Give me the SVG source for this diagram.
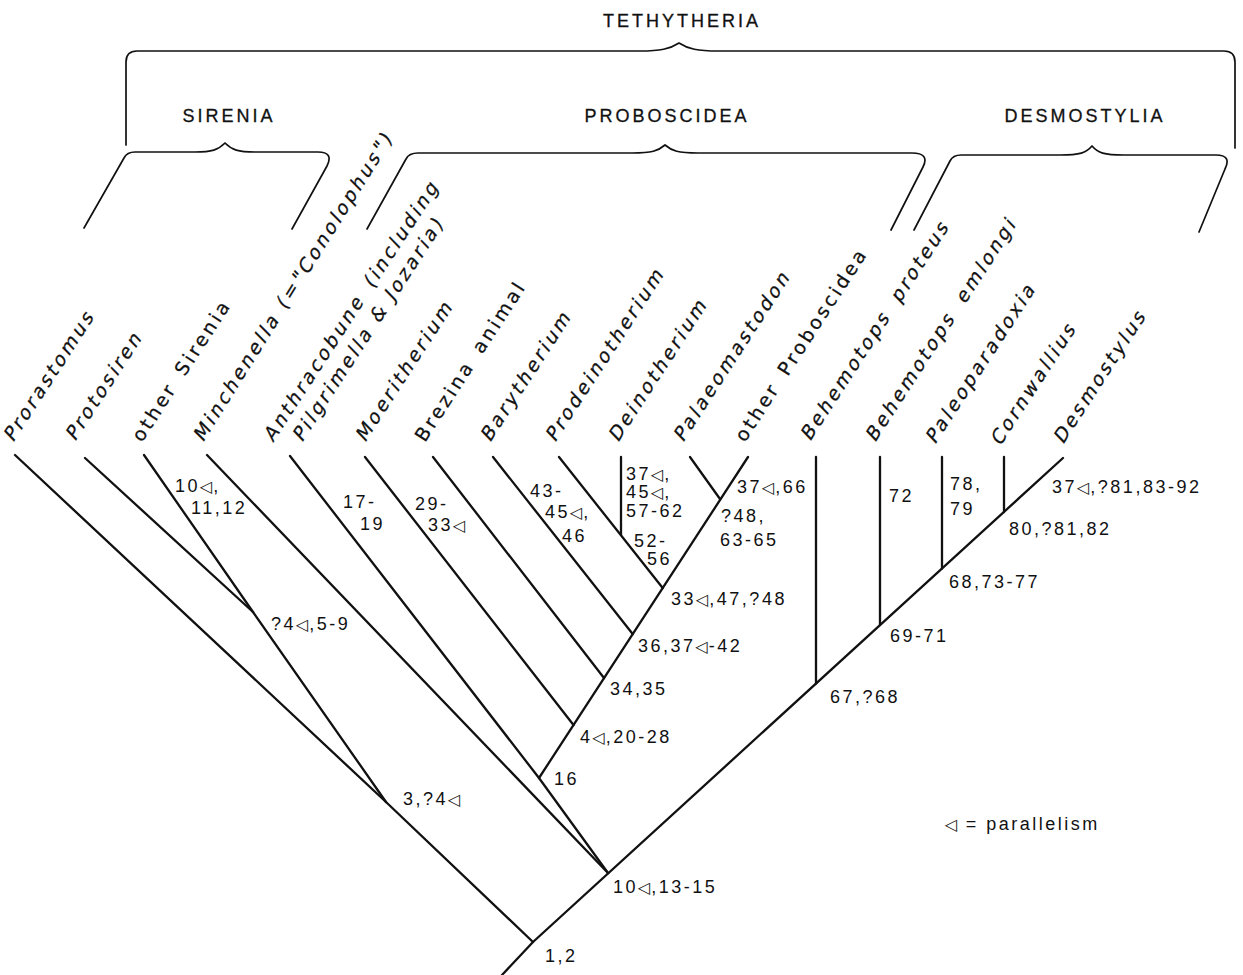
<svg xmlns="http://www.w3.org/2000/svg" width="1243" height="975" viewBox="0 0 1243 975">
<style>
.bg{fill:#fff}
.ln{stroke:#111;stroke-width:2.3;fill:none;stroke-linecap:round;stroke-linejoin:round}
.br{stroke:#111;stroke-width:1.7;fill:none;stroke-linecap:round;stroke-linejoin:round}
.cl{font-family:"Liberation Sans",Arial,sans-serif;font-size:18px;letter-spacing:3px;fill:#111;text-anchor:middle;stroke:#111;stroke-width:0.3}
.tx{font-family:"DejaVu Sans",sans-serif;font-size:19px;letter-spacing:3px;fill:#111;stroke:#111;stroke-width:0.25}
.n{font-family:"Liberation Sans",Arial,sans-serif;font-size:18px;letter-spacing:2.5px;fill:#111}
.p{font-family:"DejaVu Sans",sans-serif;font-size:16px;letter-spacing:1px}
</style>
<rect class="bg" x="0" y="0" width="1243" height="975"/>

<g id="clades">
  <g id="clade-tethytheria">
    <path class="br" d="M126,145 L126,62 Q126,51 137,51 L640,51 C660,51 670,49 679,43 C688,49 698,51 718,51 L1224,51 Q1235,51 1235,62 L1235,148"/>
    <text class="cl" x="682" y="27">TETHYTHERIA</text>
  </g>
  <g id="clade-sirenia">
    <path class="br" d="M84,228 L124,158 Q127,152 135,152 L195,152 C212,152 218,150 225,143 C232,150 238,152 255,152 L318,152 Q334,152 327,166 L292,229"/>
    <text class="cl" x="229" y="122">SIRENIA</text>
  </g>
  <g id="clade-proboscidea">
    <path class="br" d="M367,229 L406,159 Q409,153 418,153 L632,153 C652,153 658,151 665,145 C672,151 678,153 698,153 L912,153 Q930,153 923,167 L891,230"/>
    <text class="cl" x="667" y="122">PROBOSCIDEA</text>
  </g>
  <g id="clade-desmostylia">
    <path class="br" d="M914,230 L950,161 Q953,155 961,155 L1060,155 C1080,155 1086,153 1092,146 C1098,153 1104,155 1124,155 L1216,155 Q1232,155 1225,169 L1199,232"/>
    <text class="cl" x="1085" y="122">DESMOSTYLIA</text>
  </g>
</g>

<g id="connectors">
  <polyline class="ln" points="502,975 533,942 1063,458"/>
  <polyline class="ln" points="533,942 386,802 15,455"/>
  <polyline class="ln" points="386,802 253,612 144,455"/>
  <line class="ln" x1="253" y1="612" x2="85" y2="458"/>
  <line class="ln" x1="608" y1="873" x2="207" y2="455"/>
  <polyline class="ln" points="608,873 539,778 290,456"/>
  <line class="ln" x1="539" y1="778" x2="748" y2="457"/>
  <line class="ln" x1="365" y1="457" x2="573.5" y2="725"/>
  <line class="ln" x1="433" y1="457" x2="604" y2="678"/>
  <line class="ln" x1="493" y1="457" x2="632.7" y2="634"/>
  <line class="ln" x1="559" y1="457" x2="662.7" y2="588"/>
  <line class="ln" x1="621" y1="457" x2="621" y2="535"/>
  <line class="ln" x1="690" y1="457" x2="720" y2="499"/>
  <line class="ln" x1="816" y1="457" x2="816" y2="683.6"/>
  <line class="ln" x1="880" y1="457" x2="880" y2="625"/>
  <line class="ln" x1="942" y1="457" x2="942" y2="568.5"/>
  <line class="ln" x1="1004" y1="457" x2="1004" y2="512"/>
</g>

<g id="taxa">
  <g id="taxon-prorastomus"><text class="tx" transform="translate(13,443) rotate(-57) skewX(-13)">Prorastomus</text></g>
  <g id="taxon-protosiren"><text class="tx" transform="translate(75,442) rotate(-57) skewX(-13)">Protosiren</text></g>
  <g id="taxon-other-sirenia"><text class="tx" transform="translate(142,443) rotate(-57)">other <tspan dx="4">Sirenia</tspan></text></g>
  <g id="taxon-minchenella"><text class="tx" transform="translate(203,443) rotate(-58) skewX(-13)" letter-spacing="1.6">Minchenella (="Conolophus")</text></g>
  <g id="taxon-anthracobune">
    <text class="tx" transform="translate(273,443) rotate(-57) skewX(-13)">Anthracobune <tspan dx="4">(including</tspan></text>
    <text class="tx" transform="translate(302,443) rotate(-57) skewX(-13)">Pilgrimella &amp; Jozaria)</text>
  </g>
  <g id="taxon-moeritherium"><text class="tx" transform="translate(365,443) rotate(-57) skewX(-13)">Moeritherium</text></g>
  <g id="taxon-brezina"><text class="tx" transform="translate(425,443) rotate(-57)">Brezina <tspan dx="4">animal</tspan></text></g>
  <g id="taxon-barytherium"><text class="tx" transform="translate(490,443) rotate(-57) skewX(-13)">Barytherium</text></g>
  <g id="taxon-prodeinotherium"><text class="tx" transform="translate(555,443) rotate(-57) skewX(-13)">Prodeinotherium</text></g>
  <g id="taxon-deinotherium"><text class="tx" transform="translate(618,443) rotate(-57) skewX(-13)">Deinotherium</text></g>
  <g id="taxon-palaeomastodon"><text class="tx" transform="translate(683,443) rotate(-57) skewX(-13)">Palaeomastodon</text></g>
  <g id="taxon-other-proboscidea"><text class="tx" transform="translate(745,443) rotate(-57)">other <tspan dx="4">Proboscidea</tspan></text></g>
  <g id="taxon-behemotops-proteus"><text class="tx" transform="translate(810,442) rotate(-57) skewX(-13)">Behemotops <tspan dx="6">proteus</tspan></text></g>
  <g id="taxon-behemotops-emlongi"><text class="tx" transform="translate(875,443) rotate(-57) skewX(-13)">Behemotops <tspan dx="6">emlongi</tspan></text></g>
  <g id="taxon-paleoparadoxia"><text class="tx" transform="translate(935,445) rotate(-57) skewX(-13)">Paleoparadoxia</text></g>
  <g id="taxon-cornwallius"><text class="tx" transform="translate(1000,447) rotate(-57) skewX(-13)">Cornwallius</text></g>
  <g id="taxon-desmostylus"><text class="tx" transform="translate(1063,445) rotate(-57) skewX(-13)">Desmostylus</text></g>
</g>

<g id="characters">
  <g id="node-1-2"><text class="n" x="545" y="962">1,2</text></g>
  <g id="node-10-13-15"><text class="n" x="613" y="893">10<tspan class="p">◁</tspan>,13-15</text></g>
  <g id="node-3-4"><text class="n" x="403" y="805">3,?4<tspan class="p">◁</tspan></text></g>
  <g id="node-4-5-9"><text class="n" x="271" y="630">?4<tspan class="p">◁</tspan>,5-9</text></g>
  <g id="branch-other-sirenia"><text class="n" x="175" y="492">10<tspan class="p">◁</tspan>,</text><text class="n" x="191" y="514">11,12</text></g>
  <g id="node-16"><text class="n" x="554" y="785">16</text></g>
  <g id="branch-moeritherium"><text class="n" x="343" y="508">17-</text><text class="n" x="360" y="530">19</text></g>
  <g id="node-4-20-28"><text class="n" x="580" y="743">4<tspan class="p">◁</tspan>,20-28</text></g>
  <g id="branch-brezina"><text class="n" x="415" y="510">29-</text><text class="n" x="428" y="531">33<tspan class="p">◁</tspan></text></g>
  <g id="node-34-35"><text class="n" x="610" y="695">34,35</text></g>
  <g id="branch-barytherium"><text class="n" x="530" y="497">43-</text><text class="n" x="545" y="518">45<tspan class="p">◁</tspan>,</text><text class="n" x="562" y="542">46</text></g>
  <g id="node-36-42"><text class="n" x="638" y="652">36,37<tspan class="p">◁</tspan>-42</text></g>
  <g id="branch-deinotherium"><text class="n" x="626" y="480">37<tspan class="p">◁</tspan>,</text><text class="n" x="626" y="498">45<tspan class="p">◁</tspan>,</text><text class="n" x="626" y="517">57-62</text></g>
  <g id="branch-prodeinotherium"><text class="n" x="634" y="547">52-</text><text class="n" x="647" y="565">56</text></g>
  <g id="node-33-47-48"><text class="n" x="671" y="605">33<tspan class="p">◁</tspan>,47,?48</text></g>
  <g id="branch-other-proboscidea"><text class="n" x="737" y="493">37<tspan class="p">◁</tspan>,66</text></g>
  <g id="node-48-63-65"><text class="n" x="721" y="522">?48,</text><text class="n" x="720" y="546">63-65</text></g>
  <g id="node-67-68"><text class="n" x="830" y="703">67,?68</text></g>
  <g id="branch-emlongi"><text class="n" x="889" y="502">72</text></g>
  <g id="node-69-71"><text class="n" x="890" y="642">69-71</text></g>
  <g id="branch-paleoparadoxia"><text class="n" x="950" y="490">78,</text><text class="n" x="950" y="515">79</text></g>
  <g id="node-68-73-77"><text class="n" x="949" y="588">68,73-77</text></g>
  <g id="node-80-82"><text class="n" x="1009" y="535">80,?81,82</text></g>
  <g id="branch-desmostylus"><text class="n" x="1052" y="493">37<tspan class="p">◁</tspan>,?81,83-92</text></g>
  <g id="legend"><text class="n" x="945" y="830"><tspan class="p">◁</tspan> = parallelism</text></g>
</g>
</svg>
